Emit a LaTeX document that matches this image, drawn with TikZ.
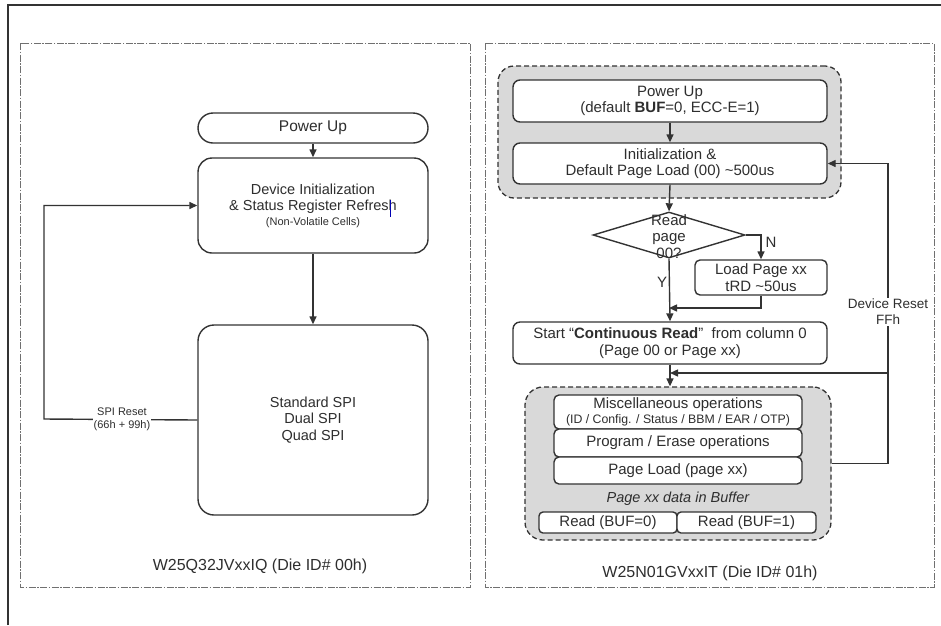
\documentclass[tikz,border=0pt]{standalone}
\usepackage{fontspec}
\setmainfont{Liberation Sans}
\usetikzlibrary{arrows.meta,shapes.geometric}
\definecolor{txt}{HTML}{2E2E2E}
\definecolor{ln}{HTML}{333333}
\definecolor{grpfill}{HTML}{D9D9D9}
\definecolor{pan}{HTML}{707070}
\newcommand{\fsz}[2]{\fontsize{#1}{#2}\selectfont}
\begin{document}
\begin{tikzpicture}[x=1pt,y=-1pt,
 box/.style={draw=ln, line width=1.4pt, fill=white, text=txt, align=center, inner sep=0pt},
 arr/.style={draw=ln, line width=1.4pt, -{Triangle[length=8pt,width=7pt]}},
 grp/.style={draw=ln, line width=1.3pt, dash pattern=on 5pt off 3pt, fill=grpfill, rounded corners=16pt, inner sep=0pt},
 panel/.style={draw=pan, line width=1pt, dash pattern=on 7pt off 1.5pt on 1.5pt off 1.5pt},
 lbl/.style={text=txt, align=center, inner sep=1pt}]
\useasboundingbox (0,0) rectangle (941,625);
% outer frame
\draw[line width=1.6pt, black!80] (8,625) -- (8,5) -- (941,5);
% panels
\draw[panel] (20.5,43) rectangle (470,587);
\draw[panel] (485,43) rectangle (934,587);

% ---------- left panel ----------
\node[box, rounded corners=15pt, minimum width=230pt, minimum height=30pt, font=\fsz{15.5}{18}] (pu1) at (313,128) {Power Up};
\node[box, rounded corners=14pt, minimum width=230pt, minimum height=95pt, font=\fsz{14.5}{16}] (init1) at (313,205.5)
 {Device Initialization\\ \& Status Register Refresh\\[-1pt]\fsz{11}{13}(Non-Volatile Cells)};
\draw[blue!70!black, line width=1pt] (390,200) -- (390,217);
\node[box, rounded corners=16pt, minimum width=230pt, minimum height=190pt, font=\fsz{14.5}{16.5}] (spi) at (313,420)
 {Standard SPI\\Dual SPI\\Quad SPI};
\draw[arr] (pu1) -- (init1);
\draw[arr] (init1) -- (spi);
\coordinate (lc) at (44,419);
\draw[arr] (spi.west) -- (lc) |- (init1.west);
\node[lbl, fill=white, font=\fsz{11}{13}] (sr) at (122,419.5) {SPI Reset\\(66h + 99h)};
\node[lbl, font=\fsz{16}{18}] (t1) at (260,566) {W25Q32JVxxIQ (Die ID\# 00h)};

% ---------- right panel ----------
\node[grp, minimum width=343pt, minimum height=132pt] (g1) at (669.5,132) {};
\node[box, rounded corners=7pt, minimum width=314pt, minimum height=42pt, font=\fsz{15}{16.5}] (pu2) at (670,101)
 {Power Up\\(default \textbf{BUF}=0, ECC-E=1)};
\node[box, rounded corners=7pt, minimum width=314pt, minimum height=41pt, font=\fsz{15}{16.5}] (init2) at (670,163.5)
 {Initialization \&\\Default Page Load (00) \textasciitilde500us};
\node[draw=ln, line width=1.4pt, fill=white, diamond, minimum width=152pt, minimum height=46pt, inner sep=0pt] (dia) at (669,235) {};
\node[lbl, font=\fsz{15}{16.5}] (diat) at (669,236.5) {Read\\page\\00?};
\node[box, rounded corners=5pt, minimum width=132pt, minimum height=35pt, font=\fsz{15}{16.5}] (ld) at (761,277.5)
 {Load Page xx\\tRD \textasciitilde50us};
\node[box, rounded corners=7pt, minimum width=314pt, minimum height=42pt, font=\fsz{15}{16.5}] (st) at (670,343)
 {Start \textquotedblleft\textbf{Continuous Read}\textquotedblright\ \ from column 0\\(Page 00 or Page xx)};
\node[lbl, font=\fsz{15}{17}] (nl) at (771,242) {N};
\node[lbl, font=\fsz{15}{17}] (yl) at (662,282) {Y};
\coordinate (yj) at (669,308);
\draw[arr] (pu2) -- (init2);
\draw[arr] (init2.south) -- (dia.north);
\draw[arr] (dia.east) -| (ld.north);
\draw[arr] (ld.south) |- (yj);
\draw[arr] (dia.south) -- (st.north);

\node[grp, rounded corners=18pt, minimum width=306pt, minimum height=153pt] (g2) at (678,463.5) {};
\draw[arr] (st.south) -- (st.south |- g2.north);
\node[box, rounded corners=5pt, minimum width=248pt, minimum height=34pt, font=\fsz{15}{15}] (misc) at (678,412)
 {Miscellaneous operations\\\fsz{12.3}{13}(ID / Config. / Status / BBM / EAR / OTP)};
\node[box, rounded corners=5pt, minimum width=248pt, minimum height=28pt, font=\fsz{15}{17}] (prog) at (678,443) {Program / Erase operations};
\node[box, rounded corners=5pt, minimum width=248pt, minimum height=27pt, font=\fsz{15}{17}] (pl) at (678,470.5) {Page Load (page xx)};
\node[lbl, font=\fsz{14.5}{17}\itshape] (buf) at (678,499) {Page xx data in Buffer};
\node[box, rounded corners=4pt, minimum width=138pt, minimum height=21pt, font=\fsz{15}{17}] (rb0) at (608,522.5) {Read (BUF=0)};
\node[box, rounded corners=4pt, minimum width=139pt, minimum height=21pt, font=\fsz{15}{17}] (rb1) at (746.5,522.5) {Read (BUF=1)};

\coordinate (dr) at (888,163.5);
\coordinate (br) at (888,373);
\draw[arr] (g2.east) -| (dr) -- (init2.east);
\draw[arr] (br) -- (st.south |- br);
\node[lbl, fill=white, font=\fsz{13.5}{16}] (drl) at (888,312) {Device Reset\\FFh};
\node[lbl, font=\fsz{16}{18}] (t2) at (710,573) {W25N01GVxxIT (Die ID\# 01h)};
\end{tikzpicture}
\end{document}
